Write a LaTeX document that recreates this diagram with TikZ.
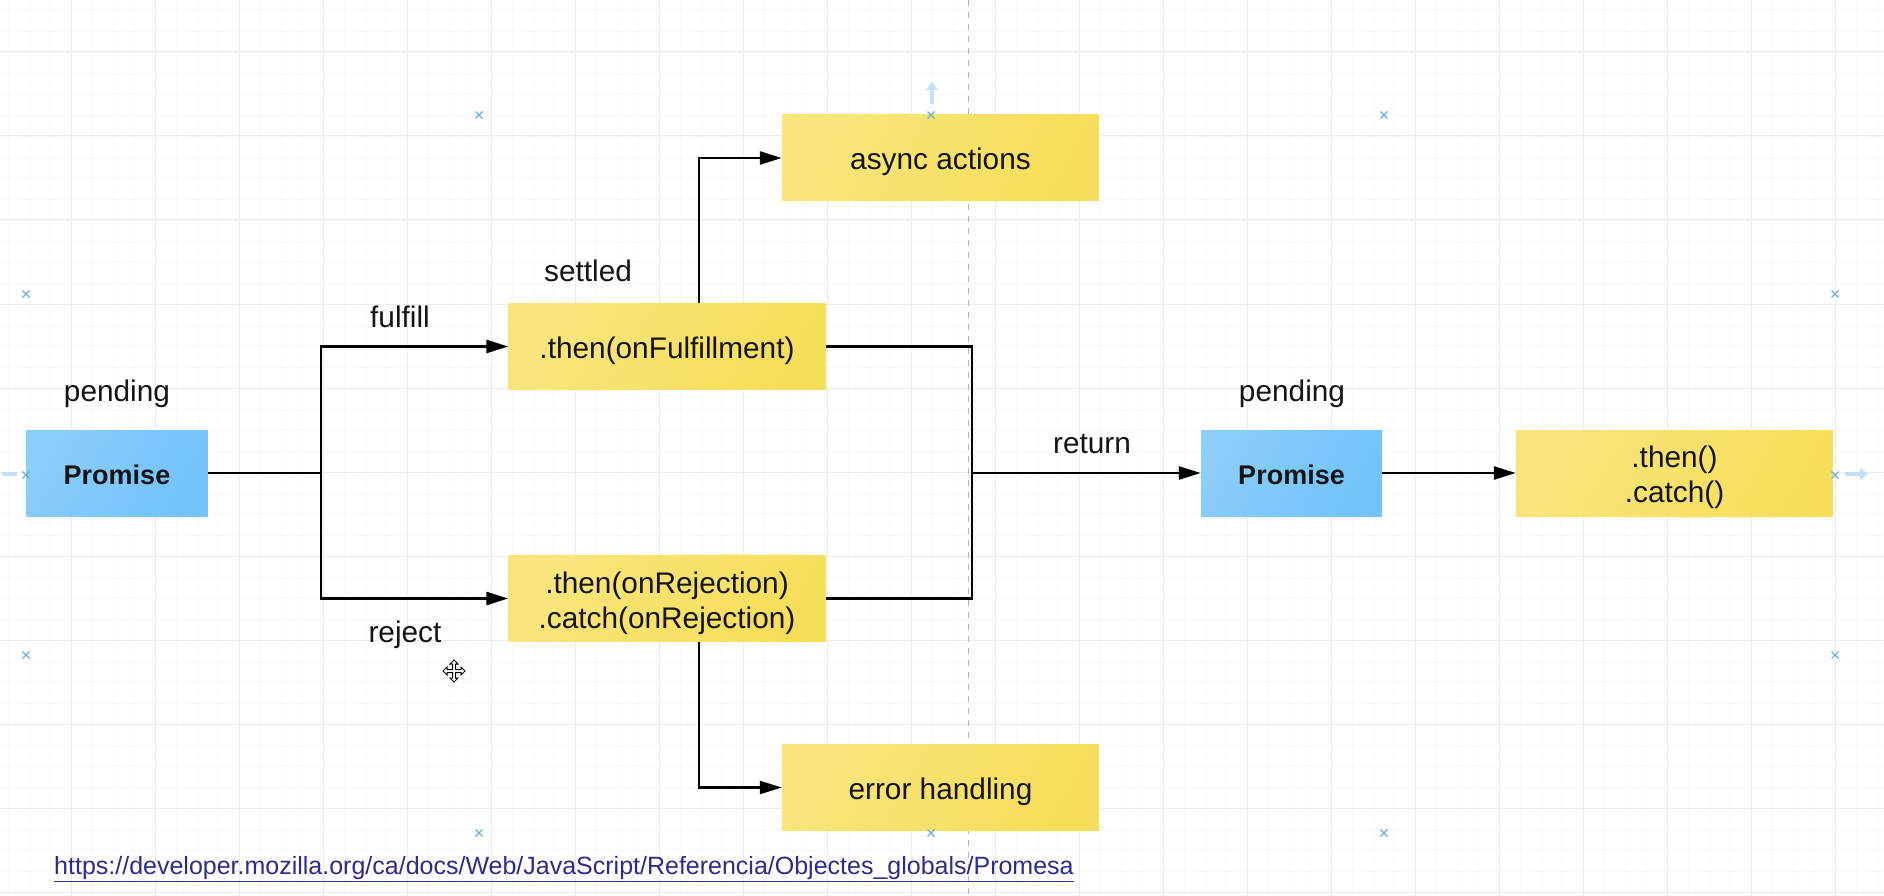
\documentclass[tikz,border=0pt]{standalone}
\usepackage{fontspec}
\setmainfont{Liberation Sans}
\usetikzlibrary{arrows.meta,calc}

\definecolor{gridmajor}{HTML}{ECECEC}
\definecolor{gridminor}{HTML}{F7F7F7}
\definecolor{blueA}{HTML}{8BCDFB}
\definecolor{blueB}{HTML}{72C3FA}
\definecolor{yelA}{HTML}{F9E57C}
\definecolor{yelB}{HTML}{F7DE5A}
\definecolor{linkblue}{HTML}{2E2A8F}
\definecolor{handle}{HTML}{6AAEE0}
\definecolor{hint}{HTML}{C3E1F6}

% box text, set a little below the geometric centre
\newcommand{\boxtext}[2][5pt]{\raisebox{-#1}[\height][\depth]{\begin{tabular}{@{}c@{}}#2\end{tabular}}}

\tikzset{
  base/.style={font=\fontsize{29.8}{35}\selectfont, text=black!92},
  promisebox/.style={base, rectangle, minimum width=181pt, minimum height=86pt,
    left color=blueA, right color=blueB, shading angle=60,
    font=\fontsize{27}{32}\selectfont\bfseries, inner sep=0pt},
  callbox/.style={base, rectangle, minimum width=317pt, minimum height=86pt,
    left color=yelA, right color=yelB, shading angle=60, align=center, inner sep=0pt},
  lbl/.style={base, inner sep=0pt},
  wire/.style={draw=black, line width=2.6pt},
  arr/.style={wire, -{Triangle[length=22pt,width=13pt]}},
  xmark/.style={draw=handle, line width=1.1pt},
}

\begin{document}
\begin{tikzpicture}[x=1pt,y=-1pt]
  \useasboundingbox (0,0) rectangle (1884,896);
  \fill[white] (0,0) rectangle (1884,896);

  % background grid: fine lines every 21, strong lines every 84
  \foreach \gx in {-13,8,...,1900} \draw[gridminor, line width=0.8pt] (\gx,0) -- (\gx,896);
  \foreach \gy in {-32,-11,...,910} \draw[gridminor, line width=0.8pt] (0,\gy) -- (1884,\gy);
  \foreach \gx in {-13,71,...,1900} \draw[gridmajor, line width=1pt] (\gx,0) -- (\gx,896);
  \foreach \gy in {-32,52,...,910} \draw[gridmajor, line width=1pt] (0,\gy) -- (1884,\gy);

  % page break
  \draw[black!30, line width=1pt, dash pattern=on 6pt off 6pt] (968,0) -- (968,896);

  % boxes
  \node[promisebox] (p1) at (117,473) {\boxtext[5pt]{Promise}};
  \node[callbox] (thenF) at (667,346.5) {\boxtext{.then(onFulfillment)}};
  \node[callbox] (async) at (940.5,158) {\boxtext{async actions}};
  \node[callbox] (rej) at (667,598.5) {\boxtext{.then(onRejection)\\.catch(onRejection)}};
  \node[callbox] (err) at (940.5,787.5) {\boxtext{error handling}};
  \node[promisebox] (p2) at (1291.5,473) {\boxtext[5pt]{Promise}};
  \node[callbox] (tc) at (1674.5,473) {\boxtext{.then()\\.catch()}};

  % labels
  \node[lbl] (l1) at (117,394) {pending};
  \node[lbl] (l2) at (588,271) {settled};
  \node[lbl] (l3) at (400,317) {fulfill};
  \node[lbl] (l4) at (405,635) {reject};
  \node[lbl] (l5) at (1092,444) {return};
  \node[lbl] (l6) at (1292,394) {pending};

  % junctions
  \coordinate (j1) at (321,473);
  \coordinate (k1) at (972,473);
  \coordinate (fu) at ([xshift=32pt]thenF.north);
  \coordinate (ru) at ([xshift=32pt]rej.south);

  % connectors
  \draw[wire] (p1.east) -- (j1);
  \draw[arr] (j1) |- (thenF.west);
  \draw[arr] (j1) |- (rej.west);
  \draw[arr] (fu) |- (async.west);
  \draw[arr] (ru) |- (err.west);
  \draw[wire] (thenF.east) -| (k1) |- (rej.east);
  \draw[arr] (k1) -- (p2.west);
  \draw[arr] (p2.east) -- (tc.west);

  % selection handles
  \foreach \hx/\hy in {479/115, 931/115, 1384/115, 479/833, 931/833, 1384/833,
                       26/294, 26/475, 26/655, 1835/294, 1835/475, 1835/655}
    \draw[xmark] (\hx-3.5,\hy-3.5) -- (\hx+3.5,\hy+3.5) (\hx-3.5,\hy+3.5) -- (\hx+3.5,\hy-3.5);
  \draw[hint, line width=4pt, -{Triangle[length=8pt,width=12pt]}] (932,104) -- (932,82);
  \draw[hint, line width=4pt, -{Triangle[length=8pt,width=12pt]}] (1845,474) -- (1868,474);
  \draw[hint, line width=4pt] (2,474) -- (17,474);

  % move cursor
  \draw[black, fill=white, line width=1pt, shift={(454,671)}]
    (0,-11) -- (4,-7) -- (1.5,-7) -- (1.5,-1.5) -- (7,-1.5) -- (7,-4) -- (11,0)
    -- (7,4) -- (7,1.5) -- (1.5,1.5) -- (1.5,7) -- (4,7) -- (0,11) -- (-4,7)
    -- (-1.5,7) -- (-1.5,1.5) -- (-7,1.5) -- (-7,4) -- (-11,0) -- (-7,-4)
    -- (-7,-1.5) -- (-1.5,-1.5) -- (-1.5,-7) -- (-4,-7) -- cycle;

  % reference link
  \node[anchor=west, inner sep=0pt, text=linkblue, font=\fontsize{25}{30}\selectfont] (url) at (54,869)
    {\underline{https://developer.mozilla.org/ca/docs/Web/JavaScript/Referencia/Objectes\_globals/Promesa}};
\end{tikzpicture}
\end{document}
